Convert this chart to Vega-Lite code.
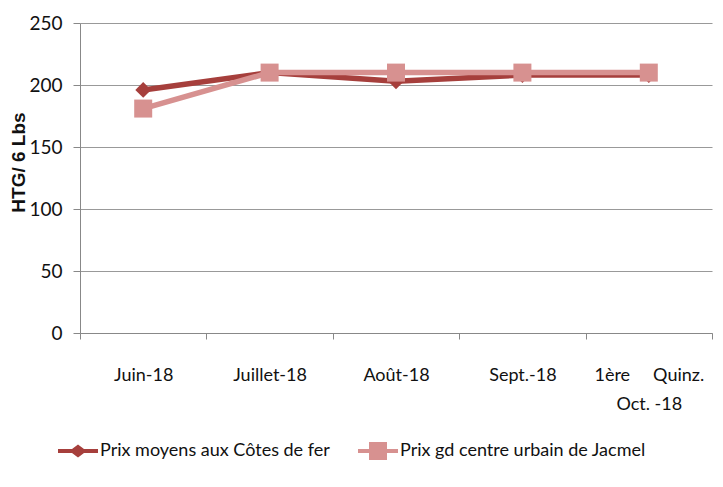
{
  "$schema": "https://vega.github.io/schema/vega-lite/v6.json",
  "width": 632,
  "height": 310,
  "autosize": "none",
  "padding": {"left": 80, "top": 23, "right": 11, "bottom": 154},
  "background": "white",
  "config": {
    "view": {"stroke": null},
    "font": "Lato, sans-serif"
  },
  "data": {
    "values": [
      {"periode": "Juin-18", "serie": "Prix moyens aux Côtes de fer", "prix": 196},
      {"periode": "Juillet-18", "serie": "Prix moyens aux Côtes de fer", "prix": 210},
      {"periode": "Août-18", "serie": "Prix moyens aux Côtes de fer", "prix": 203},
      {"periode": "Sept.-18", "serie": "Prix moyens aux Côtes de fer", "prix": 208},
      {"periode": "1ère Quinz. Oct. -18", "serie": "Prix moyens aux Côtes de fer", "prix": 208},
      {"periode": "Juin-18", "serie": "Prix gd centre urbain de Jacmel", "prix": 181},
      {"periode": "Juillet-18", "serie": "Prix gd centre urbain de Jacmel", "prix": 210},
      {"periode": "Août-18", "serie": "Prix gd centre urbain de Jacmel", "prix": 210},
      {"periode": "Sept.-18", "serie": "Prix gd centre urbain de Jacmel", "prix": 210},
      {"periode": "1ère Quinz. Oct. -18", "serie": "Prix gd centre urbain de Jacmel", "prix": 210}
    ]
  },
  "encoding": {
    "x": {
      "field": "periode",
      "type": "nominal",
      "sort": null,
      "bandPosition": 0.5,
      "scale": {"type": "band", "paddingInner": 0, "paddingOuter": 0},
      "axis": {
        "title": null,
        "labelAngle": 0,
        "labelFont": "Lato, sans-serif",
        "labelFontSize": 18,
        "labelColor": "#111",
        "labelPadding": 27,
        "labelBaseline": "top",
        "labelLineHeight": 29,
        "labelLimit": 0,
        "labelExpr": "datum.value == '1ère Quinz. Oct. -18' ? ['1ère\u00a0\u00a0\u00a0\u00a0\u00a0Quinz.', 'Oct. -18'] : datum.value",
        "tickBand": "extent",
        "tickSize": 6,
        "tickColor": "#888",
        "domainColor": "#888",
        "grid": false
      }
    },
    "y": {
      "field": "prix",
      "type": "quantitative",
      "scale": {"domain": [0, 250]},
      "axis": {
        "title": "HTG/ 6 Lbs",
        "titleFont": "Liberation Sans, sans-serif",
        "titleFontSize": 19,
        "titleFontWeight": "bold",
        "titleColor": "#111",
        "titlePadding": 0,
        "titleY": 139,
        "values": [0, 50, 100, 150, 200, 250],
        "labelFont": "Lato, sans-serif",
        "labelFontSize": 19,
        "labelColor": "#111",
        "labelPadding": 11,
        "tickSize": 7,
        "tickColor": "#888",
        "domainColor": "#888",
        "gridColor": "#999",
        "gridWidth": 1
      }
    },
    "color": {
      "field": "serie",
      "type": "nominal",
      "sort": ["Prix moyens aux Côtes de fer", "Prix gd centre urbain de Jacmel"],
      "scale": {
        "domain": ["Prix moyens aux Côtes de fer", "Prix gd centre urbain de Jacmel"],
        "range": ["#A63F3C", "#D79190"]
      },
      "legend": {
        "title": null,
        "orient": "none",
        "direction": "horizontal",
        "legendX": -22,
        "legendY": 408,
        "symbolSize": 1600,
        "symbolStrokeWidth": 0,
        "labelFont": "Lato, sans-serif",
        "labelFontSize": 18,
        "labelLimit": 0,
        "labelColor": "#111",
        "labelOffset": 2,
        "columnPadding": 28,
        "encode": {
          "symbols": {
            "update": {
              "shape": {"signal": "datum.value == 'Prix moyens aux Côtes de fer' ? 'M-1,-0.1 L-0.3,-0.1 L0,-0.33 L0.3,-0.1 L1,-0.1 L1,0.1 L0.3,0.1 L0,0.33 L-0.3,0.1 L-1,0.1 Z' : 'M-1,-0.1 L-0.45,-0.1 L-0.45,-0.45 L0.45,-0.45 L0.45,-0.1 L1,-0.1 L1,0.1 L0.45,0.1 L0.45,0.45 L-0.45,0.45 L-0.45,0.1 L-1,0.1 Z'"},
              "fillOpacity": {"value": 1},
              "strokeWidth": {"value": 0}
            }
          }
        }
      }
    }
  },
  "layer": [
    {
      "transform": [{"filter": "datum.serie == 'Prix moyens aux Côtes de fer'"}],
      "mark": {"type": "line", "strokeWidth": 5.5}
    },
    {
      "transform": [{"filter": "datum.serie == 'Prix moyens aux Côtes de fer'"}],
      "mark": {"type": "point", "shape": "diamond", "filled": true, "size": 250, "opacity": 1}
    },
    {
      "transform": [{"filter": "datum.serie == 'Prix gd centre urbain de Jacmel'"}],
      "mark": {"type": "line", "strokeWidth": 5.5}
    },
    {
      "transform": [{"filter": "datum.serie == 'Prix gd centre urbain de Jacmel'"}],
      "mark": {"type": "point", "shape": "square", "filled": true, "size": 324, "opacity": 1}
    }
  ]
}
